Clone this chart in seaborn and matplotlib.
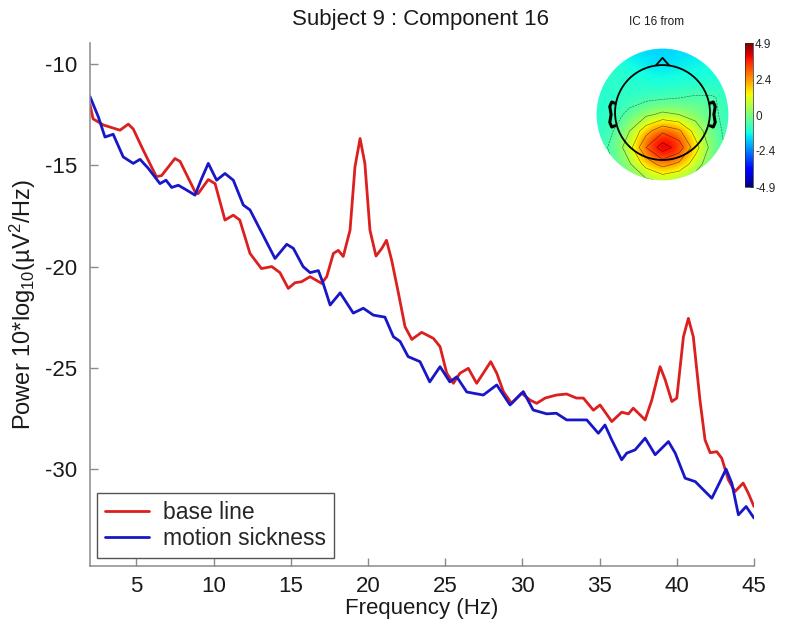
import numpy as np
import pandas as pd
import matplotlib
matplotlib.use("Agg")
import matplotlib.pyplot as plt
import seaborn as sns
from matplotlib.patches import Circle

# ---------------- data ----------------
freq_base = [2.0, 2.2, 2.86, 3.94, 4.48, 4.8, 5.45, 6.3, 6.64, 7.5, 7.83, 8.8, 9.0, 9.66,
             10.1, 10.74, 11.28, 11.7, 12.36, 13.1, 13.77, 14.3, 14.84, 15.27, 15.7, 16.25,
             17.0, 17.33, 17.76, 18.08, 18.4, 18.84, 19.16, 19.49, 19.8, 20.13, 20.52, 20.9,
             21.2, 21.54, 21.97, 22.4, 22.84, 23.48, 24.24, 24.67, 25.1, 25.53, 25.96, 26.5,
             27.04, 27.47, 27.95, 28.34, 28.77, 29.3, 29.95, 30.5, 30.93, 31.47, 32.2, 32.87,
             33.5, 33.95, 34.6, 35.03, 35.79, 36.43, 36.87, 37.18, 37.95, 38.38, 38.92, 39.25,
             39.68, 40.0, 40.43, 40.75, 41.07, 41.5, 41.83, 42.16, 42.59, 42.91, 43.34, 43.77,
             44.3, 44.63, 45.0]
power_base = [-12.0, -12.7, -13.0, -13.26, -12.96, -13.2, -14.25, -15.56, -15.5, -14.66, -14.8,
              -16.3, -16.4, -15.7, -15.9, -17.7, -17.46, -17.7, -19.35, -20.1, -20.0, -20.3,
              -21.08, -20.8, -20.75, -20.5, -20.83, -20.5, -19.35, -19.2, -19.5, -18.2, -15.07,
              -13.67, -14.9, -18.2, -19.48, -19.1, -18.7, -19.7, -21.3, -22.97, -23.6, -23.25,
              -23.55, -23.96, -25.27, -25.77, -25.27, -25.03, -25.77, -25.27, -24.7, -25.27,
              -26.18, -26.76, -26.26, -26.6, -26.76, -26.5, -26.35, -26.3, -26.5, -26.5, -27.1,
              -26.84, -27.66, -27.2, -27.28, -27.0, -27.58, -26.6, -24.95, -25.6, -26.67, -26.5,
              -23.47, -22.56, -23.47, -26.6, -28.57, -29.2, -29.15, -29.47, -30.54, -31.12,
              -30.7, -31.2, -31.86]

freq_ms = [2.0, 2.54, 2.97, 3.5, 4.15, 4.8, 5.24, 5.78, 6.53, 6.92, 7.29, 7.72, 8.26, 8.8,
           9.23, 9.66, 10.2, 10.74, 11.28, 11.93, 12.36, 13.2, 13.98, 14.74, 15.17, 15.8,
           16.25, 16.79, 17.1, 17.55, 18.2, 19.05, 19.7, 20.35, 21.1, 21.65, 22.08, 22.6,
           23.37, 24.0, 24.67, 25.3, 25.75, 26.4, 27.47, 28.34, 29.2, 30.06, 30.7, 31.58,
           32.2, 32.87, 34.17, 34.92, 35.35, 35.79, 36.43, 36.76, 37.3, 37.95, 38.6, 39.46,
           39.9, 40.54, 41.2, 41.73, 42.27, 42.8, 43.19, 43.56, 43.99, 44.49, 45.0]
power_ms = [-11.6, -12.6, -13.6, -13.46, -14.58, -14.9, -14.7, -15.15, -15.9, -15.73, -16.09,
            -15.98, -16.22, -16.47, -15.65, -14.9, -15.73, -15.4, -15.73, -16.96, -17.2,
            -18.44, -19.6, -18.9, -19.1, -20.0, -20.3, -20.2, -20.83, -21.9, -21.3, -22.3,
            -22.06, -22.4, -22.5, -23.47, -23.7, -24.45, -24.7, -25.7, -24.95, -25.7, -25.45,
            -26.2, -26.35, -25.85, -26.84, -26.18, -27.09, -27.28, -27.25, -27.58, -27.58,
            -28.24, -27.83, -28.57, -29.55, -29.22, -29.06, -28.48, -29.3, -28.65, -29.22,
            -30.46, -30.63, -31.04, -31.45, -30.63, -30.01, -30.7, -32.27, -31.86, -32.43]

series_labels = ["base line", "motion sickness"]
x_ticks = [5, 10, 15, 20, 25, 30, 35, 40, 45]
y_ticks = [-30, -25, -20, -15, -10]

# scalp map values (rows top->bottom, cols left->right, grid step 0.25 over [-1, 1])
topo_values = [
    [-1.4, -1.4, -1.5, -1.6, -1.7, -1.6, -1.5, -1.4, -1.4],
    [-1.2, -0.9, -1.2, -1.4, -1.5, -1.4, -1.3, -1.2, -1.2],
    [-1.0, -0.9, -1.0, -1.1, -1.2, -1.1, -1.1, -1.1, -1.1],
    [-1.0, -1.0, -0.9, -0.8, -0.7, -0.6, -0.5, -0.5, -0.9],
    [-1.0, -0.9, -0.4, 0.2, 0.6, 0.4, 0.0, -0.4, -0.9],
    [-1.0, -0.6, 0.4, 2.0, 3.2, 2.6, 1.0, -0.3, -0.8],
    [-1.0, -0.4, 1.0, 3.4, 4.9, 4.0, 1.8, 0.0, -0.8],
    [-1.0, -0.6, 0.3, 1.8, 2.8, 2.2, 0.9, -0.3, -0.9],
    [-1.0, -0.9, -0.4, 0.2, 0.6, 0.4, -0.1, -0.6, -1.0],
]
cbar_ticks = [-4.9, -2.4, 0, 2.4, 4.9]

# ---------------- style ----------------
sns.set_style("ticks")
plt.rcParams['font.family'] = ['Liberation Sans', 'DejaVu Sans']
plt.rcParams['axes.unicode_minus'] = False
plt.rcParams['mathtext.fontset'] = 'custom'
plt.rcParams['mathtext.rm'] = 'Liberation Sans'
plt.rcParams['mathtext.it'] = 'Liberation Sans:italic'
plt.rcParams['mathtext.bf'] = 'Liberation Sans:bold'

RED = '#dc1f1f'
BLUE = '#1717c8'
SPINE = '#8a8a8a'
FS = 16

fig = plt.figure(figsize=(7.87, 6.25), dpi=100)
ax = fig.add_axes([90 / 787, 1 - 566 / 625, 664 / 787, 523 / 625])

df = pd.concat([
    pd.DataFrame({'Frequency': freq_base, 'Power': power_base, 'cond': series_labels[0]}),
    pd.DataFrame({'Frequency': freq_ms, 'Power': power_ms, 'cond': series_labels[1]}),
])
sns.lineplot(data=df, x='Frequency', y='Power', hue='cond', palette=[RED, BLUE],
             estimator=None, sort=False, linewidth=2.0, ax=ax)

ax.set_xlim(2, 45)
ax.set_ylim(-34.8, -8.95)
ax.set_xticks(x_ticks)
ax.set_yticks(y_ticks)
sns.despine(ax=ax)
for s in ['left', 'bottom']:
    ax.spines[s].set_color(SPINE)
    ax.spines[s].set_linewidth(1.1)
ax.tick_params(direction='in', length=6, width=1.0, color=SPINE, labelsize=FS,
               labelcolor='#1a1a1a')
ax.tick_params(axis='x', pad=7)
ax.tick_params(axis='y', pad=9)
ax.set_xlabel('Frequency (Hz)', fontsize=FS, color='#1a1a1a', labelpad=1)
ax.set_ylabel('Power 10*log$_{10}$(µV$^2$/Hz)', fontsize=17, color='#1a1a1a')
ax.yaxis.set_label_coords(-0.078, 0.5)

leg = ax.legend(loc='lower left', bbox_to_anchor=(0.0105, 0.0153), borderaxespad=0,
                fontsize=16.5, handlelength=1.9, handletextpad=0.65, frameon=True,
                fancybox=False, edgecolor='#555555', framealpha=1, borderpad=0.35,
                labelspacing=0.15, title=None)
leg.get_frame().set_linewidth(1.0)
for line in leg.get_lines():
    line.set_linewidth(2.0)

fig.text(421 / 787, 1 - 20 / 625, 'Subject 9 : Component 16', fontsize=FS,
         ha='center', va='center', color='#1a1a1a')

# ---------------- scalp map inset ----------------
ax2 = fig.add_axes([590 / 787, 1 - 187 / 625, 145 / 787, 145 / 625])
ax2.set_xlim(-1.1, 1.1)
ax2.set_ylim(-1.1, 1.1)
ax2.axis('off')
grid = np.array(topo_values)
im = ax2.imshow(grid, extent=[-1.125, 1.125, -1.125, 1.125], origin='upper', cmap='jet',
                vmin=-4.9, vmax=4.9, interpolation='bicubic')
clip = Circle((0, 0), 1.0, transform=ax2.transData)
im.set_clip_path(clip)
gx = np.linspace(-1, 1, grid.shape[1])
gy = np.linspace(1, -1, grid.shape[0])
cs = ax2.contour(gx, gy, grid, levels=[-0.6, 0.4, 1.4, 2.4, 3.4, 4.4], colors='k',
                 linewidths=0.4, alpha=0.6)
cs.set_clip_path(Circle((0, 0), 1.0, transform=ax2.transData))
ax2.add_patch(Circle((0, 0.03), 0.72, fill=False, lw=1.3, color='k'))
ax2.plot([-0.1, 0, 0.1], [0.745, 0.86, 0.745], color='k', lw=1.3)
ear_x = [0.72, 0.77, 0.80, 0.78, 0.80, 0.77, 0.72]
ear_y = [0.17, 0.19, 0.12, 0.0, -0.12, -0.19, -0.17]
ax2.plot(ear_x, ear_y, color='k', lw=2.2)
ax2.plot([-v for v in ear_x], ear_y, color='k', lw=2.2)

cax = fig.add_axes([745 / 787, 1 - 187 / 625, 8 / 787, 144 / 625])
cb = fig.colorbar(im, cax=cax, ticks=cbar_ticks)
cb.outline.set_linewidth(0.5)
cb.ax.set_yticklabels(['-4.9', '-2.4', '0', '2.4', '4.9'])
cb.ax.tick_params(labelsize=8.5, length=2, width=0.5, pad=1.5, direction='in')

fig.text(657 / 787, 1 - 22 / 625, 'IC 16 from', fontsize=8.5, ha='center', va='center',
         color='#1a1a1a')

fig.savefig('out.png', dpi=100)
